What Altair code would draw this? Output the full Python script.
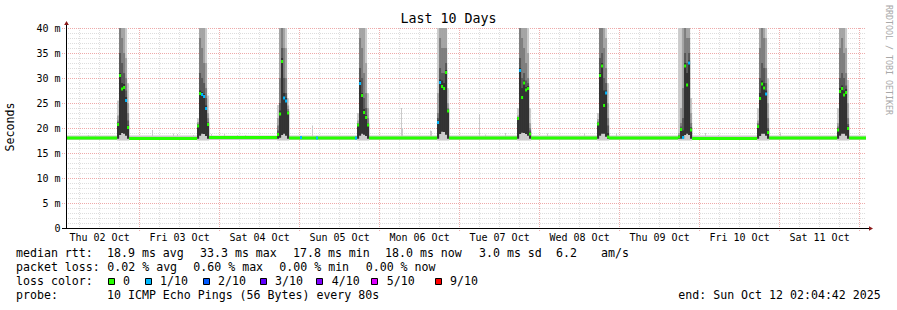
import json
import altair as alt
import pandas as pd

# ------------------------------------------------------------------ data
# time axis: hours since 2025-10-02 00:00
T_START = 2 + 4 / 60 + 42 / 3600          # Thu 02 Oct 02:04:42
T_END = T_START + 240                      # Sun 12 Oct 02:04:42

day_labels = ["Thu 02 Oct", "Fri 03 Oct", "Sat 04 Oct", "Sun 05 Oct", "Mon 06 Oct",
              "Tue 07 Oct", "Wed 08 Oct", "Thu 09 Oct", "Fri 10 Oct", "Sat 11 Oct"]
label_hours = [12, 36, 60, 84, 108, 132, 156, 180, 204, 228]   # noon of each day
y_ticks = [0, 5, 10, 15, 20, 25, 30, 35, 40]                    # ms

# evening busy periods, one per day
peak_start = ["17:24", "17:24", "17:24", "17:24", "17:24",
              "17:24", "17:24", "17:42", "17:24", "17:24"]
col_minutes = 36

peak_med = [
    [20.7, 30.5, 27.8, 28.1, 25.5, 20.1],
    [20.4, 26.9, 26.7, 26.3, 23.9, 20.7],
    [18.7, 22.8, 33.3, 26.0, 25.4, 23.0],
    [20.6, 28.9, 26.5, 23.1, 22.1, 20.6],
    [21.1, 29.1, 28.3, 27.9, 31.1, 23.4],
    [21.9, 31.5, 26.1, 29.0, 27.6, 27.9, 18.8],
    [20.8, 30.5, 32.4, 24.5, 27.0, 18.2],
    [18.2, 19.7, 18.1, 32.4, 28.6, 33.0, 19.6],
    [20.3, 25.9, 28.8, 28.0, 26.8, 19.1],
    [19.6, 27.3, 27.9, 26.6, 27.1, 19.9],
]
peak_loss = [
    [0, 0, 0, 0, 1, 0],
    [0, 0, 1, 1, 1, 0],
    [0, 0, 0, 1, 1, 0],
    [0, 1, 0, 0, 0, 0],
    [1, 1, 0, 0, 0, 0],
    [0, 1, 0, 0, 0, 0, 0],
    [0, 0, 0, 0, 1, 0],
    [0, 0, 1, 0, 0, 1, 0],
    [0, 0, 0, 0, 1, 0],
    [0, 0, 0, 0, 0, 0],
]
# smoke: max ping and upper edges of the inner bands
peak_top = [
    [25.5, 45, 45, 45, 45, 29],
    [22, 45, 45, 45, 45, 26.5],
    [24.6, 45, 45, 45, 45, 26],
    [23, 45, 45, 45, 45, 27],
    [45, 45, 45, 45, 45, 28],
    [24, 45, 45, 45, 45, 45, 24],
    [23, 45, 45, 45, 45, 29],
    [45, 45, 45, 45, 45, 45, 26],
    [24, 45, 45, 45, 45, 30],
    [24, 45, 45, 45, 45, 29.6],
]
peak_h2 = [
    [22.5, 45, 45, 41, 34, 25],
    [21.2, 45, 45, 40, 33, 23],
    [22, 40, 45, 45, 36, 24.5],
    [21.5, 45, 45, 40, 33, 24],
    [27, 45, 45, 45, 40, 25],
    [22.5, 45, 45, 45, 40, 35, 21],
    [21.8, 45, 45, 45, 38, 25],
    [19, 24, 40, 45, 45, 45, 23],
    [21.5, 45, 45, 45, 38, 25],
    [21, 45, 45, 45, 36, 25],
]
peak_h3 = [
    [21.5, 41, 38, 35, 30, 23],
    [20.9, 38, 36, 33, 28, 22],
    [20.5, 30, 40, 36, 30, 23.8],
    [21.0, 38, 36, 31, 27, 22],
    [23, 38, 36, 36, 36, 24],
    [22.2, 40, 38, 36, 33, 30, 20],
    [21.3, 40, 40, 36, 32, 22],
    [18.6, 21, 28, 40, 38, 38, 21],
    [21, 36, 40, 38, 32, 22],
    [20.3, 36, 38, 35, 31, 22],
]
peak_h4 = [
    [21.2, 35, 33, 31, 27.5, 21.5],
    [20.7, 31, 30, 29, 26, 21.2],
    [19.5, 25, 36, 30, 27, 23.4],
    [20.8, 32, 30, 26, 24, 21],
    [22, 32, 31, 31, 33, 23.8],
    [22.1, 34, 30, 31, 29.5, 29, 19.5],
    [21.1, 34, 35, 30, 29, 20.5],
    [18.4, 20.3, 22, 35, 33, 35, 20.2],
    [20.7, 30, 33, 32, 29, 20],
    [20.0, 30, 31, 30, 28.5, 20.8],
]
peak_core = [
    [21.0, 31, 29, 28.8, 26.2, 20.5],
    [20.6, 27.5, 27.2, 26.8, 24.5, 20.9],
    [19.0, 23.5, 34, 27, 26, 23.2],
    [20.8, 29.5, 27, 23.8, 22.6, 20.8],
    [21.5, 29.7, 29.5, 29.0, 31.6, 23.6],
    [22.1, 32, 28, 29.5, 28.2, 28.4, 19.2],
    [21.0, 31, 33, 27.5, 27.5, 19.0],
    [18.3, 20.0, 19.5, 33, 31, 33.5, 19.9],
    [20.6, 27, 29.5, 29, 27.5, 19.5],
    [19.9, 28, 28.5, 27.5, 27.8, 20.3],
]
peak_low = [
    [17.9, 18.6, 19.0, 18.9, 18.5, 17.9],
    [17.9, 18.5, 18.9, 18.8, 18.4, 17.9],
    [17.9, 18.1, 18.6, 18.9, 18.5, 17.9],
    [17.9, 18.5, 18.9, 18.7, 18.4, 17.9],
    [17.9, 18.8, 19.3, 19.2, 18.7, 17.9],
    [17.9, 18.8, 19.1, 19.0, 18.8, 18.5, 17.9],
    [17.9, 18.5, 18.9, 18.9, 18.3, 17.9],
    [17.9, 17.9, 17.9, 18.6, 18.9, 18.6, 17.9],
    [17.9, 18.4, 18.9, 18.9, 18.5, 17.9],
    [17.9, 18.5, 18.9, 18.9, 18.5, 17.9],
]
smoke_floor = 17.5

# quiet periods between the peaks (11 segments)
base_med = [18.0, 17.9, 18.1, 18.0, 18.0, 18.0, 18.0, 18.0, 17.9, 18.0, 18.0]
base_smoke = [17.6, 18.5]

# isolated slow pings on the quiet baseline
spike_hour = [8.68, 10.78, 27.88, 34.18, 35.38, 40.18, 45.58, 49.48, 53.38, 55.78,
              75.88, 102.58, 102.88, 111.28, 111.58, 125.98, 127.78, 133.78, 146.38,
              157.48, 167.08, 193.78, 197.68, 216.28]
spike_top = [18.6, 18.5, 19.6, 18.9, 18.8, 18.6, 18.8, 18.8, 18.6, 18.6,
             20.5, 24.0, 20.0, 19.5, 19.4, 22.8, 18.7, 19.0, 18.9,
             19.0, 19.0, 19.0, 18.6, 19.1]
# baseline samples with 1/10 loss
lossy_hour = [72.28, 77.08, 88.78]
lossy_med = [18.1, 18.0, 18.0]

loss_labels = ["0", "1/10", "2/10", "3/10", "4/10", "5/10", "9/10"]
loss_hex = ["#26ff00", "#00b8ff", "#0059ff", "#5e00ff", "#7e00ff", "#dd00ff", "#ff0000"]
loss_of = {0: 0, 1: 1, 2: 2, 3: 3, 4: 4, 5: 5, 9: 6}

band_fill = ["#cacaca", "#a4a4a4", "#7e7e7e", "#585858", "#323232"]

legend_rows = [
    ["median rtt:", "18.9 ms avg", "33.3 ms max", "17.8 ms min", "18.0 ms now",
     "3.0 ms sd", "6.2", "am/s"],
    ["packet loss:", "0.02 % avg", "0.60 % max", "0.00 % min", "0.00 % now"],
]
probe_text = ["probe:", "10 ICMP Echo Pings (56 Bytes) every 80s", "end: Sun Oct 12 02:04:42 2025"]

# ------------------------------------------------------------------ tables
MW = 0.3
def hm(s):
    h, m = s.split(":")
    return int(h) + int(m) / 60

band_rows, med_rows, bounds = [], [], []
w = col_minutes / 60
for p in range(10):
    st = 24 * p + hm(peak_start[p])
    n = len(peak_med[p])
    for i in range(n):
        a, b = st + i * w, st + (i + 1) * w
        highs = [peak_top[p][i], peak_h2[p][i], peak_h3[p][i], peak_h4[p][i], peak_core[p][i]]
        lows = [smoke_floor] + [peak_low[p][i]] * 4
        for k in range(5):
            band_rows.append(dict(t0=a, t1=b, lo=lows[k], hi=highs[k], band=k, fill=band_fill[k]))
        m = peak_med[p][i]
        med_rows.append(dict(t0=a, t1=b, lo=m - MW, hi=m + MW,
                             fill=loss_hex[loss_of[peak_loss[p][i]]]))
    bounds.append((st, st + n * w))

base_rows, smoke_rows = [], []
for i, v in enumerate(base_med):
    a = T_START if i == 0 else bounds[i - 1][1]
    b = T_END if i == 10 else bounds[i][0]
    base_rows.append(dict(t0=a, t1=b, lo=v - MW, hi=v + MW, fill=loss_hex[0]))
    smoke_rows.append(dict(t0=a, t1=b, lo=base_smoke[0], hi=base_smoke[1], fill=band_fill[0]))
for h, t in zip(spike_hour, spike_top):
    smoke_rows.append(dict(t0=h, t1=h + 0.3, lo=17.9, hi=t, fill=band_fill[0]))
for h, v in zip(lossy_hour, lossy_med):
    base_rows.append(dict(t0=h, t1=h + 0.6, lo=v - MW, hi=v + MW, fill=loss_hex[1]))

bands_df = pd.DataFrame(band_rows).sort_values("band", kind="stable")
med_df = pd.DataFrame(base_rows + med_rows)
smoke_df = pd.DataFrame(smoke_rows)

minor_v = pd.DataFrame({"h": [h for h in range(6, 241, 6) if h % 24 != 0]})
major_v = pd.DataFrame({"h": list(range(24, 241, 24))})
minor_h = pd.DataFrame({"v": [v for v in range(1, 40) if v % 5 != 0]})
major_h = pd.DataFrame({"v": list(range(5, 41, 5))})

# ------------------------------------------------------------------ chart
MONO = "DejaVu Sans Mono"
L, T = 66, 28
GRID = "#dddddd"
MGRID = "#eeaaaa"

xs = alt.Scale(domain=[T_START, T_END], nice=False, zero=False)
ys = alt.Scale(domain=[0, 40], nice=False, zero=False)
xaxis = alt.Axis(values=label_hours, labelExpr=json.dumps(day_labels) + "[floor(datum.value / 24)]",
                 title=None, grid=False, ticks=False, domain=False, labelFont=MONO,
                 labelFontSize=10, labelColor="#000000", labelPadding=4,
                 labelFlush=False, labelOverlap=False, labelBaseline="top")
yaxis = alt.Axis(values=y_ticks, labelExpr="datum.value == 0 ? '0\u00a0\u00a0' : datum.value + ' m'",
                 title=None, grid=False, ticks=False, domain=False, labelFont=MONO,
                 labelFontSize=10, labelColor="#000000", labelPadding=6)

def X(f):
    return alt.X(f, type="quantitative", scale=xs, axis=xaxis)

def Y(f):
    return alt.Y(f, type="quantitative", scale=ys, axis=yaxis)

one = pd.DataFrame({"k": [0]})

layers = [
    alt.Chart(minor_v).mark_rule(color=GRID, strokeDash=[1, 1], xOffset=0.5).encode(
        x=X("h"), y=alt.value(0), y2=alt.value(200)),
    alt.Chart(minor_h).mark_rule(color=GRID, strokeDash=[1, 1], yOffset=0.5).encode(
        y=Y("v"), x=alt.value(0), x2=alt.value(800)),
    alt.Chart(major_v).mark_rule(color=MGRID, strokeDash=[1, 1], xOffset=0.5).encode(
        x=X("h"), y=alt.value(0), y2=alt.value(203)),
    alt.Chart(major_h).mark_rule(color=MGRID, strokeDash=[1, 1], yOffset=0.5).encode(
        y=Y("v"), x=alt.value(-4), x2=alt.value(800)),
    alt.Chart(smoke_df).mark_rect(clip=True, strokeWidth=0).encode(
        x=X("t0"), x2="t1", y=Y("lo"), y2="hi", fill=alt.Fill("fill:N", scale=None)),
    alt.Chart(bands_df).mark_rect(clip=True, strokeWidth=0).encode(
        x=X("t0"), x2="t1", y=Y("lo"), y2="hi", fill=alt.Fill("fill:N", scale=None)),
    alt.Chart(med_df).mark_rect(clip=True, strokeWidth=0).encode(
        x=X("t0"), x2="t1", y=Y("lo"), y2="hi", fill=alt.Fill("fill:N", scale=None)),
    # axis lines and arrows
    alt.Chart(one).mark_rule(color="#000000").encode(
        x=alt.value(0.5), y=alt.value(-6), y2=alt.value(200)),
    alt.Chart(one).mark_rule(color="#000000").encode(
        x=alt.value(-4), x2=alt.value(803), y=alt.value(200.5)),
    alt.Chart(one).mark_point(shape="triangle-up", filled=True, size=22, color="#8b1a1a", opacity=1).encode(
        x=alt.value(0.5), y=alt.value(-5)),
    alt.Chart(one).mark_point(shape="triangle-right", filled=True, size=22, color="#8b1a1a", opacity=1).encode(
        x=alt.value(805), y=alt.value(200.5)),
]

def txt(s, ax, ay, size=11.6, align="left", color="#000000", angle=0):
    kw = dict(text=s, font=MONO, fontSize=size, align=align, baseline="middle", color=color)
    if angle:
        kw["angle"] = angle
    return alt.Chart(one).mark_text(**kw).encode(x=alt.value(ax - L), y=alt.value(ay - T))

layers.append(txt("Last 10 Days", 448.5, 19, size=13.3, align="center"))
layers.append(txt("Seconds", 11, 127, size=11.6, align="center", angle=270))
layers.append(txt("RRDTOOL / TOBI OETIKER", 888, 5, size=8.3, color="#a8a8a8", angle=90))

row1_x = [16, 107, 200, 293, 385, 479, 556, 601]
row2_x = [16, 107.3, 193.3, 279.3, 365.7]
for s, x in zip(legend_rows[0], row1_x):
    layers.append(txt(s, x, 254.3))
for s, x in zip(legend_rows[1], row2_x):
    layers.append(txt(s, x, 268.3))

layers.append(txt("loss color:", 16, 282.3))
sq_x = [108.5, 145.5, 203.5, 260.5, 316.5, 371.5, 435.5]
lab_x = [123, 160, 218, 275, 331.7, 386.7, 450]
for lab, col, sx, lx in zip(loss_labels, loss_hex, sq_x, lab_x):
    layers.append(alt.Chart(one).mark_rect(fill=col, stroke="#000000", strokeWidth=1).encode(
        x=alt.value(sx - L), x2=alt.value(sx + 6 - L), y=alt.value(278.5 - T), y2=alt.value(284.5 - T)))
    layers.append(txt(lab, lx, 282.3))

layers.append(txt(probe_text[0], 16, 296))
layers.append(txt(probe_text[1], 107, 296))
layers.append(txt(probe_text[2], 678.3, 296))

chart = alt.layer(*layers).properties(
    width=800, height=200,
    padding={"left": L, "top": T, "right": 897 - L - 800, "bottom": 310 - T - 200},
    autosize=alt.AutoSizeParams(type="none"),
    background="#ffffff",
).configure_view(stroke=None)

chart.save("out.html", embed_options={"renderer": "svg", "actions": False})
